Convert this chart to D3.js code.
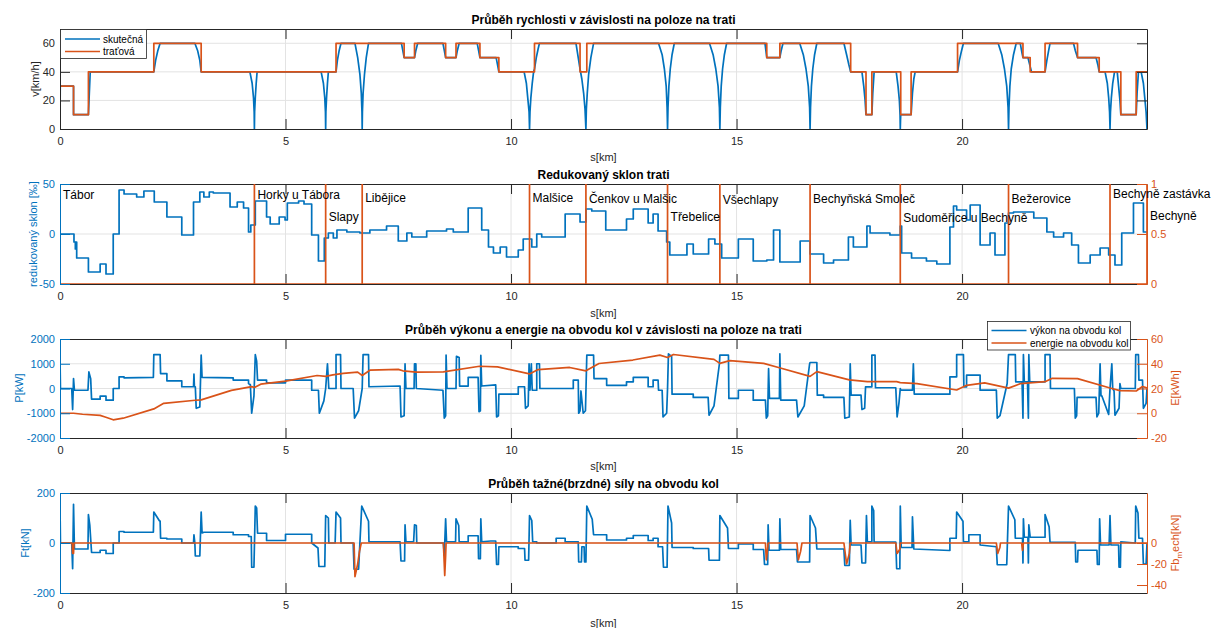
<html>
<head>
<meta charset="utf-8">
<script src="https://cdn.jsdelivr.net/npm/d3@7/dist/d3.min.js"></script>
<style>
  body { margin: 0; background: #fff; }
  text { font-family: "Liberation Sans", Arial, Helvetica, sans-serif; }
</style>
</head>
<body>
<svg id="chart" width="1226" height="628"></svg>
<script>
// ---- data (s in km) ----

// speed limit: section starts [km] and limit [km/h]
var limitStart = [0, 0.30, 0.63, 2.08, 3.13, 6.12, 7.63, 7.86, 8.55, 8.78, 9.31, 9.73, 10.52, 11.53, 11.68,
  15.67, 15.96, 17.53, 17.87, 18.0, 18.64, 18.87, 19.90, 21.35, 21.51, 21.84, 22.56, 23.04, 23.52, 23.86, 24.1];
var limitVal = [30, 10, 40, 60, 40, 60, 50, 60, 50, 60, 50, 40, 60, 40, 60,
  50, 60, 40, 10, 40, 10, 40, 60, 50, 40, 60, 50, 40, 10, 40, 40];

// actual speed [s, v]
var speedAct = [
  [0,0],[0.005,30],[0.30,30],[0.30,10],[0.63,10],[0.65,25],[0.67,40],
  [2.08,40],[2.12,48],[2.17,55],[2.22,60],
  [2.99,60],[3.05,55],[3.10,48],[3.13,40],
  [4.21,40],[4.26,32],[4.29,22],[4.305,12],[4.31,0],[4.315,12],[4.33,22],[4.35,32],[4.37,40],
  [5.79,40],[5.84,32],[5.87,22],[5.885,12],[5.89,0],[5.895,12],[5.91,22],[5.93,32],[5.95,40],
  [6.12,40],[6.15,48],[6.19,55],[6.23,60],
  [6.54,60],[6.60,50],[6.65,38],[6.68,25],[6.695,12],[6.70,0],[6.705,12],[6.72,25],[6.75,38],[6.79,50],[6.84,60],
  [7.57,60],[7.60,55],[7.63,50],[7.86,50],[7.89,55],[7.93,60],
  [8.49,60],[8.52,55],[8.55,50],[8.78,50],[8.81,55],[8.85,60],
  [9.25,60],[9.28,55],[9.31,50],[9.67,50],[9.70,45],[9.73,40],
  [10.29,40],[10.34,32],[10.37,22],[10.40,12],[10.41,0],[10.42,12],[10.44,22],[10.47,32],[10.50,40],[10.52,42],[10.56,50],[10.60,56],[10.63,60],
  [11.44,60],[11.49,50],[11.53,42],[11.57,35],[11.61,25],[11.64,14],[11.66,0],[11.67,14],[11.69,25],[11.72,38],[11.77,50],[11.83,60],
  [13.27,60],[13.35,52],[13.40,42],[13.44,30],[13.46,15],[13.47,0],[13.48,15],[13.50,30],[13.53,42],[13.57,52],[13.62,60],
  [14.40,60],[14.48,52],[14.54,42],[14.59,30],[14.62,15],[14.63,0],[14.64,15],[14.66,30],[14.69,42],[14.73,52],[14.78,60],
  [15.63,60],[15.65,55],[15.67,50],[15.96,50],[15.99,55],[16.03,60],
  [16.40,60],[16.48,52],[16.54,42],[16.59,30],[16.62,15],[16.63,0],[16.64,15],[16.66,30],[16.69,42],[16.73,52],[16.78,60],
  [17.38,60],[17.44,52],[17.49,45],[17.53,40],
  [17.78,40],[17.82,30],[17.85,20],[17.87,10],[18.0,10],[18.02,25],[18.05,40],
  [18.54,40],[18.58,30],[18.61,20],[18.625,10],[18.63,0],[18.635,6],[18.64,10],[18.87,10],[18.90,25],[18.93,35],[18.96,40],
  [19.90,40],[19.94,48],[19.99,55],[20.03,60],
  [20.80,60],[20.88,52],[20.94,42],[20.99,30],[21.02,15],[21.03,0],[21.04,15],[21.06,30],[21.09,42],[21.14,52],[21.20,60],
  [21.29,60],[21.33,53],[21.35,50],[21.46,50],[21.50,45],[21.54,40],
  [21.84,40],[21.88,48],[21.92,55],[21.95,60],
  [22.47,60],[22.51,55],[22.56,50],[22.97,50],[23.01,45],[23.04,40],
  [23.17,40],[23.22,32],[23.25,22],[23.27,12],[23.28,0],[23.29,12],[23.31,22],[23.34,32],[23.38,40],
  [23.44,40],[23.47,30],[23.50,20],[23.52,10],[23.86,10],[23.88,25],[23.91,40],
  [23.97,40],[24.02,32],[24.05,22],[24.08,12],[24.1,0]
];

// reduced gradient: section starts [km] and value [per mille]
var gradStart = [0, 0.31, 0.34, 0.35, 0.37, 0.63, 0.89, 1.02, 1.18, 1.31, 1.42, 1.70, 1.86, 2.09, 2.37, 2.70, 2.96,
  3.10, 3.19, 3.31, 3.40, 3.77, 3.93, 4.07, 4.18, 4.23, 4.33, 4.58, 4.66, 4.86, 4.99, 5.04, 5.29, 5.41, 5.58,
  5.73, 5.86, 5.95, 6.06, 6.14, 6.36, 6.65, 6.87, 7.24, 7.50, 7.69, 7.80, 8.13, 8.57, 8.72, 9.05, 9.35, 9.50,
  9.61, 9.76, 9.90, 10.16, 10.27, 10.46, 10.57, 10.68, 11.20, 11.53, 11.66, 11.79, 12.10, 12.56, 12.71, 13.04,
  13.15, 13.26, 13.45, 13.52, 13.90, 14.04, 14.38, 14.52, 14.67, 15.04, 15.37, 15.67, 15.82, 15.96, 16.41,
  16.63, 16.93, 17.15, 17.48, 17.59, 17.89, 17.96, 18.40, 18.63, 18.66, 18.88, 19.21, 19.44, 19.73, 19.81,
  19.88, 20.10, 20.18, 20.40, 20.62, 20.73, 20.95, 21.03, 21.14, 21.59, 21.88, 22.03, 22.25, 22.43, 22.58,
  22.84, 23.06, 23.25, 23.39, 23.54, 23.80, 24.02, 24.1];
var gradVal = [0, -8, -15, -8, -24, -38, -30, -40, 0, 44, 40, 37, 43, 32, 17, -1, 32,
  42, 37, 42, 41, 27, 32, 26, 2, 9, 33, 17, 10, 17, 14, 31, 33, 30, -1,
  -27, -4, 1, -4, 4, 2, 1, 4, 8, -7, 1, -3, 3, 5, 2, 26, 4, -13,
  -19, -13, -23, -16, -5, -13, 0, -3, 20, 12, 25, 23, 4, 15, 25, 11,
  20, 3, -8, -21, -10, -20, -5, -10, -24, -5, -27, -26, 4, -28, -7,
  -20, -29, -26, -3, -13, 8, 1, -1, 8, -19, -24, -27, -30, 7, 28,
  24, 14, 29, -11, 1, -21, 11, 21, 22, 16, 2, -3, 1, -11, -29,
  -21, -14, -21, -31, 1, 31, 2, 2];

// stations
var stationKm = [0, 4.31, 5.89, 6.70, 10.41, 11.66, 13.47, 14.63, 16.63, 18.63, 21.03, 23.28, 24.1];
var stationName = ["Tábor", "Horky u Tábora", "Slapy", "Libějice", "Malšice", "Čenkov u Malšic", "Třebelice",
  "Všechlapy", "Bechyňská Smoleč", "Sudoměřice u Bechyně", "Bežerovice", "Bechyně zastávka", "Bechyně"];
var stationLabelY = [0.89, 0.89, 0.67, 0.86, 0.86, 0.85, 0.67, 0.84, 0.85, 0.66, 0.85, 0.90, 0.68];

// power at wheel rim [s, kW]
var power = [
  [0,0],[0,1250],[0.01,0],[0.26,0],[0.28,-850],[0.30,400],[0.32,-70],[0.62,-70],[0.64,670],[0.68,400],[0.70,-430],
  [0.89,-430],[0.89,-310],[1.02,-310],[1.02,-470],[1.18,-470],[1.18,0],[1.31,0],[1.31,470],[1.42,470],[1.42,430],
  [2.07,450],[2.08,1370],[2.22,1370],[2.23,600],[2.37,600],[2.37,310],[2.70,310],[2.70,70],[2.96,70],[2.97,580],[2.98,70],
  [3.00,70],[3.02,-800],[3.10,-750],[3.13,1350],[3.15,450],[3.84,430],[3.84,340],[4.18,340],[4.18,200],[4.22,150],
  [4.25,-1000],[4.30,-300],[4.33,1370],[4.36,1100],[4.38,340],[4.58,340],[4.58,230],[5.0,230],[5.0,340],[5.58,340],
  [5.58,-70],[5.73,-70],[5.75,-1000],[5.85,-500],[5.89,0],[5.93,1000],[5.96,0],[6.12,0],[6.12,1370],[6.22,1370],
  [6.23,0],[6.50,0],[6.53,-1200],[6.62,-900],[6.70,0],[6.72,1370],[6.84,1370],[6.85,70],[7.54,100],[7.56,-1150],
  [7.63,-1100],[7.65,1000],[7.67,0],[7.85,0],[7.86,1000],[7.89,1000],[7.90,0],[8.49,-70],[8.52,-1200],[8.55,-1100],
  [8.56,1350],[8.58,0],[8.78,0],[8.79,1300],[8.85,1250],[8.86,100],[9.05,100],[9.05,450],[9.27,450],[9.29,-940],
  [9.32,-900],[9.33,1340],[9.35,100],[9.66,150],[9.68,-1150],[9.72,-1100],[9.73,-230],[10.16,-230],[10.16,70],
  [10.30,70],[10.32,-800],[10.38,-700],[10.40,1000],[10.42,-70],[10.45,1000],[10.47,-70],[10.57,-70],[10.57,1000],
  [10.63,1000],[10.64,0],[11.38,0],[11.38,340],[11.49,340],[11.50,-1000],[11.53,-900],[11.55,-100],[11.60,-1000],
  [11.65,-900],[11.68,1350],[11.83,1350],[11.84,400],[12.12,400],[12.12,130],[12.56,130],[12.56,270],[12.71,270],
  [12.71,450],[13.04,450],[13.04,70],[13.15,70],[13.15,340],[13.26,340],[13.27,-70],[13.35,-70],[13.37,-1150],
  [13.45,-1000],[13.47,0],[13.49,1400],[13.56,1300],[13.57,-230],[14.04,-230],[14.04,-360],[14.37,-360],[14.39,-1080],
  [14.50,-700],[14.62,1000],[14.63,1350],[14.82,1350],[14.83,-400],[15.04,-400],[15.04,-70],[15.37,-70],[15.37,-470],
  [15.64,-470],[15.66,-1200],[15.69,-1100],[15.71,800],[15.73,-400],[15.95,-400],[15.96,1400],[15.98,-470],
  [16.33,-470],[16.36,-1150],[16.50,-700],[16.62,1000],[16.63,1050],[16.78,1050],[16.79,-270],[16.93,-270],
  [16.93,-360],[17.38,-360],[17.40,-1200],[17.50,-1150],[17.52,1000],[17.54,-270],[17.76,-270],[17.78,-850],
  [17.84,-800],[17.86,67],[18.0,67],[18.0,1350],[18.07,1350],[18.08,30],[18.53,30],[18.56,-1150],[18.60,-600],
  [18.63,0],[18.64,-67],[18.90,-67],[18.92,1000],[18.94,-230],[19.73,-230],[19.73,470],[19.88,470],[19.88,1370],
  [20.03,1370],[20.04,67],[20.10,67],[20.10,540],[20.40,540],[20.40,-67],[20.76,-67],[20.78,-1200],[20.84,-1100],
  [21.0,200],[21.03,1370],[21.18,1370],[21.19,270],[21.33,270],[21.35,-1200],[21.36,1370],[21.38,270],[21.45,270],
  [21.47,-1200],[21.48,1370],[21.50,270],[21.84,270],[21.84,1370],[21.95,1370],[21.96,0],[22.49,0],[22.51,-1200],
  [22.54,-1100],[22.55,-360],[22.97,-360],[22.99,-1150],[23.03,-1000],[23.06,1000],[23.08,-300],[23.10,-300],
  [23.25,-1050],[23.28,0],[23.32,1000],[23.34,0],[23.37,-100],[23.39,-1080],[23.48,-800],[23.50,200],[23.52,0],
  [23.84,0],[23.85,1370],[23.91,1370],[23.92,340],[24.0,340],[24.02,-800],[24.08,-600],[24.1,0]
];

// energy at wheel rim [s, kWh]
var energy = [
  [0,0],[0.3,0],[0.5,-0.8],[0.89,-1.7],[1.0,-3],[1.18,-5.3],[1.4,-4],[2.08,3.5],[2.3,8],[3.0,10.5],[3.13,10.8],
  [3.8,18.5],[4.25,21.5],[4.31,20.8],[4.45,23.5],[5.0,26],[5.7,30.5],[5.89,29.8],[6.05,31],[6.28,32.2],[6.6,33.2],
  [6.70,30.5],[6.87,34.8],[7.5,35.5],[7.6,34.3],[7.9,33.2],[8.5,33.5],[9.3,38],[9.7,37.5],[10.41,31.8],[10.6,35.3],
  [11.3,37],[11.66,34.3],[11.95,40.2],[12.7,43],[13.3,47],[13.47,45],[13.6,47.5],[14.5,43.5],[14.63,40.3],
  [14.85,42.5],[15.6,40.3],[15.95,36.8],[16.63,29.8],[16.78,33.6],[17.5,27],[17.9,25.5],[18.55,25.5],[18.63,24.8],
  [19.0,24],[19.88,18.8],[20.1,22.6],[20.5,24.5],[21.03,20.3],[21.3,24],[21.84,25.5],[22.0,28.2],[22.56,28],
  [23.28,20.4],[23.5,18.3],[23.86,18],[24.0,21.6],[24.1,20.5]
];

// tractive (braking) force at wheel rim [s, kN]
var force = [
  [0,0],[0,155],[0.01,0],[0.26,0],[0.28,-103],[0.30,155],[0.32,-24],[0.62,-24],[0.63,114],[0.66,73],[0.70,-38],
  [0.89,-38],[0.89,-29],[1.02,-29],[1.02,-42],[1.18,-42],[1.18,0],[1.31,0],[1.31,46],[1.42,46],[1.42,43],[2.07,43],
  [2.08,124],[2.2,90],[2.22,87],[2.23,19],[2.37,19],[2.37,16],[2.70,16],[2.70,0],[2.96,0],[2.97,33],[2.99,0],
  [3.0,-52],[3.1,-52],[3.13,124],[3.15,40],[3.19,43],[3.84,43],[3.84,33],[4.18,33],[4.18,26],[4.24,26],[4.25,-97],
  [4.30,-97],[4.33,148],[4.36,140],[4.38,39],[4.58,39],[4.58,10],[5.0,10],[5.0,35],[5.58,35],[5.58,0],[5.72,-20],
  [5.74,-94],[5.87,-94],[5.89,110],[5.95,100],[5.96,0],[6.10,0],[6.12,124],[6.22,100],[6.23,0],[6.50,0],[6.52,-105],
  [6.62,-105],[6.69,148],[6.84,87],[6.85,5],[7.54,5],[7.56,-72],[7.64,-72],[7.65,73],[7.67,5],[7.84,5],[7.86,73],
  [7.90,70],[7.91,0],[8.50,0],[8.52,-50],[8.55,97],[8.57,5],[8.77,5],[8.78,97],[8.84,70],[8.85,5],[9.05,5],[9.05,29],
  [9.27,29],[9.28,-63],[9.32,-63],[9.33,97],[9.35,5],[9.55,8],[9.66,8],[9.68,-86],[9.72,-86],[9.73,-15],[10.16,-15],
  [10.16,-22],[10.30,-22],[10.31,-69],[10.39,-69],[10.41,110],[10.46,90],[10.48,5],[10.57,5],[10.57,0],[11.0,0],
  [11.0,19],[11.20,19],[11.20,5],[11.49,5],[11.50,-76],[11.56,-76],[11.57,-15],[11.62,-15],[11.63,-76],[11.66,-76],
  [11.68,148],[11.80,95],[11.83,33],[12.12,33],[12.12,12],[12.56,12],[12.56,19],[12.71,19],[12.71,30],[13.04,30],
  [13.04,10],[13.15,10],[13.15,19],[13.26,19],[13.26,-15],[13.36,-15],[13.38,-97],[13.46,-97],[13.48,148],[13.56,80],
  [13.57,-18],[14.04,-18],[14.04,-22],[14.38,-22],[14.39,-69],[14.62,-69],[14.63,110],[14.8,60],[14.82,-22],
  [15.04,-22],[15.04,-4],[15.37,-4],[15.37,-26],[15.60,-26],[15.62,-86],[15.69,-86],[15.70,73],[15.72,-29],
  [15.95,-29],[15.96,97],[15.98,-26],[16.33,-26],[16.35,-76],[16.62,-76],[16.63,110],[16.75,60],[16.78,-24],
  [17.38,-24],[17.40,-90],[17.50,-90],[17.52,91],[17.54,-8],[17.76,-8],[17.78,-80],[17.86,-80],[17.88,110],
  [17.90,5],[18.0,5],[18.0,148],[18.04,130],[18.05,4],[18.53,4],[18.55,-103],[18.62,-103],[18.63,148],[18.65,-18],
  [18.89,-18],[18.90,105],[18.93,-24],[19.73,-30],[19.73,19],[19.87,19],[19.88,124],[20.02,87],[20.03,5],[20.15,5],
  [20.15,33],[20.40,33],[20.40,-8],[20.76,-15],[20.78,-87],[20.99,-87],[21.03,148],[21.17,93],[21.18,19],[21.34,19],
  [21.35,-80],[21.36,97],[21.38,23],[21.46,23],[21.47,-80],[21.48,73],[21.51,23],[21.84,23],[21.84,114],[21.93,65],
  [21.95,3],[22.51,3],[22.52,-76],[22.56,-76],[22.57,-29],[22.99,-29],[23.0,-86],[23.04,-86],[23.05,97],[23.07,-8],
  [23.26,-8],[23.28,110],[23.30,-8],[23.47,-8],[23.48,-97],[23.51,-97],[23.52,5],[23.84,0],[23.85,148],[23.90,120],
  [23.92,19],[24.0,19],[24.02,-84],[24.08,-84],[24.1,0]
];

// mechanical brake force [s, kN]
var brakeMech = [
  [0,0],[0.27,0],[0.28,-10],[0.30,-10],[0.31,0],[6.52,0],[6.54,-32],[6.60,-20],[6.64,-8],[6.68,0],
  [8.50,0],[8.53,-31],[8.55,-12],[8.56,0],[15.64,0],[15.66,-16],[15.69,-5],[15.70,0],[16.34,0],[16.37,-16],
  [16.42,-8],[16.45,0],[17.38,0],[17.44,-20],[17.50,-10],[17.52,0],[18.53,0],[18.56,-10],[18.62,-6],[18.63,0],
  [20.76,0],[20.79,-10],[20.84,-4],[20.85,0],[21.32,0],[21.34,-7],[21.36,0],[24.1,0]
];

// tick values
var xTicks = [0, 5, 10, 15, 20];
var speedTicks = [0, 20, 40, 60];
var gradTicks = [-50, 0, 50];
var stationAxisTicks = [0, 0.5, 1];
var powerTicks = [-2000, -1000, 0, 1000, 2000];
var energyTicks = [-20, 0, 20, 40, 60];
var forceTicks = [-200, 0, 200];
var brakeTicks = [-40, -20, 0];

// ---- drawing ----
var blue = "#0072BD", orange = "#D95319", axisGray = "#262626", gridGray = "#e3e3e3";
var svg = d3.select("#chart");
var x = d3.scaleLinear().domain([0, 24.1]).range([60, 1147]);
var plain = function(d) { return String(d); };   // keep a plain hyphen minus like MATLAB

function panel(id, top, bottom, title, labelY) {
  var g = svg.append("g");
  svg.append("defs").append("clipPath").attr("id", "clip" + id)
    .append("rect").attr("x", 60).attr("y", top).attr("width", 1087).attr("height", bottom - top);
  // vertical grid
  g.selectAll(".vg").data(xTicks.slice(1)).enter().append("line")
    .attr("x1", function(d) { return x(d); }).attr("x2", function(d) { return x(d); })
    .attr("y1", top).attr("y2", bottom).attr("stroke", gridGray);
  // title and x label
  svg.append("text").attr("x", 603.5).attr("y", top - 5).attr("text-anchor", "middle")
    .attr("font-size", "12px").attr("font-weight", "bold").attr("fill", "#000").text(title);
  svg.append("text").attr("x", 603.5).attr("y", labelY).attr("text-anchor", "middle")
    .attr("font-size", "11px").attr("fill", axisGray).text("s[km]");
  return { g: g, top: top, bottom: bottom, clip: "url(#clip" + id + ")" };
}

function hGrid(p, y, ticks) {
  p.g.selectAll(null).data(ticks).enter().append("line")
    .attr("x1", 60).attr("x2", 1147)
    .attr("y1", function(d) { return y(d); }).attr("y2", function(d) { return y(d); })
    .attr("stroke", gridGray);
}

function styleAxis(a, color) {
  a.select(".domain").attr("stroke", color);
  a.selectAll(".tick line").attr("stroke", color);
  a.selectAll(".tick text").attr("fill", color).attr("font-size", "11px")
    .attr("font-family", '"Liberation Sans", Arial, sans-serif');
}

function xAxes(p) {
  var b = svg.append("g").attr("transform", "translate(0," + p.bottom + ")")
    .call(d3.axisBottom(x).tickValues(xTicks).tickSize(-10).tickSizeOuter(0).tickPadding(8).tickFormat(plain));
  styleAxis(b, axisGray);
  var t = svg.append("g").attr("transform", "translate(0," + p.top + ")")
    .call(d3.axisTop(x).tickValues(xTicks).tickSize(-10).tickSizeOuter(0).tickFormat(""));
  styleAxis(t, axisGray);
  b.selectAll(".tick").filter(function(d) { return d == 0; }).select("line").remove();
  t.selectAll(".tick").filter(function(d) { return d == 0; }).select("line").remove();
}

function yAxisLeft(y, ticks, color) {
  var a = svg.append("g").attr("transform", "translate(60,0)")
    .call(d3.axisLeft(y).tickValues(ticks).tickSize(-10).tickSizeOuter(0).tickPadding(5).tickFormat(plain));
  styleAxis(a, color);
  return a;
}

function yAxisRight(y, ticks, color, labels) {
  var ax = d3.axisRight(y).tickValues(ticks).tickSize(-10).tickSizeOuter(0).tickPadding(4)
    .tickFormat(labels ? plain : "");
  var a = svg.append("g").attr("transform", "translate(1147,0)").call(ax);
  styleAxis(a, color);
  return a;
}

function yLabel(px, py, txt, color) {
  return svg.append("text").attr("transform", "translate(" + px + "," + py + ") rotate(-90)")
    .attr("text-anchor", "middle").attr("dominant-baseline", "central")
    .attr("font-size", "11px").attr("fill", color).text(txt);
}

function drawLine(p, data, y, color, curve) {
  var line = d3.line().x(function(d) { return x(d[0]); }).y(function(d) { return y(d[1]); })
    .curve(curve || d3.curveLinear);
  svg.append("path").datum(data).attr("clip-path", p.clip)
    .attr("fill", "none").attr("stroke", color).attr("stroke-width", 1.7)
    .attr("stroke-linejoin", "round").attr("d", line);
}

function steps(starts, vals) {
  return starts.map(function(s, i) { return [s, vals[i]]; });
}

// panel 1: speed
var p1 = panel(1, 29, 129, "Průběh rychlosti v závislosti na poloze na trati", 161);
var y1 = d3.scaleLinear().domain([0, 70]).range([129, 29]);
hGrid(p1, y1, [20, 40, 60]);
drawLine(p1, speedAct, y1, blue);
drawLine(p1, steps(limitStart, limitVal), y1, orange, d3.curveStepAfter);
xAxes(p1);
yAxisLeft(y1, speedTicks, axisGray);
yAxisRight(y1, speedTicks, axisGray, false);
yLabel(35, 79, "v[km/h]", axisGray);

// legend 1
var lg1 = svg.append("g");
lg1.append("rect").attr("x", 60.5).attr("y", 29.5).attr("width", 86).attr("height", 29)
  .attr("fill", "#fff").attr("stroke", axisGray).attr("stroke-width", 0.8);
[["skutečná", blue, 39], ["traťová", orange, 51.5]].forEach(function(e) {
  lg1.append("line").attr("x1", 65).attr("x2", 100).attr("y1", e[2]).attr("y2", e[2])
    .attr("stroke", e[1]).attr("stroke-width", 1.7);
  lg1.append("text").attr("x", 103).attr("y", e[2] + 3.5).attr("font-size", "10px")
    .attr("fill", "#000").text(e[0]);
});

// panel 2: gradient and stations
var p2 = panel(2, 184, 284, "Redukovaný sklon trati", 317);
var y2 = d3.scaleLinear().domain([-50, 50]).range([284, 184]);
var y2r = d3.scaleLinear().domain([0, 1]).range([284, 184]);
hGrid(p2, y2, [0]);
drawLine(p2, steps(gradStart, gradVal), y2, blue, d3.curveStepAfter);
var stationPulse = [];
stationKm.forEach(function(s) { stationPulse.push([s, 0], [s, 1], [s, 0]); });
xAxes(p2);
drawLine(p2, stationPulse, y2r, orange);
yAxisLeft(y2, gradTicks, blue);
yAxisRight(y2r, stationAxisTicks, orange, true);
yLabel(33, 234, "redukovaný sklon [‰]", blue);
svg.append("g").selectAll("text").data(stationName).enter().append("text")
  .attr("x", function(d, i) { return x(stationKm[i]) + 3; })
  .attr("y", function(d, i) { return y2r(stationLabelY[i]); })
  .attr("dominant-baseline", "central").attr("font-size", "12px").attr("fill", "#000")
  .text(function(d) { return d; });

// panel 3: power and energy
var p3 = panel(3, 339, 438, "Průběh výkonu a energie na obvodu kol v závislosti na poloze na trati", 470);
var y3 = d3.scaleLinear().domain([-2000, 2000]).range([438, 339]);
var y3r = d3.scaleLinear().domain([-20, 60]).range([438, 339]);
hGrid(p3, y3, [-1000, 0, 1000]);
drawLine(p3, power, y3, blue);
drawLine(p3, energy, y3r, orange);
xAxes(p3);
yAxisLeft(y3, powerTicks, blue);
yAxisRight(y3r, energyTicks, orange, true);
yLabel(19, 388, "P[kW]", blue);
yLabel(1175, 388, "E[kWh]", orange);

// legend 3
var lg3 = svg.append("g");
lg3.append("rect").attr("x", 987.5).attr("y", 321.5).attr("width", 143).attr("height", 28.5)
  .attr("fill", "#fff").attr("stroke", axisGray).attr("stroke-width", 0.8);
[["výkon na obvodu kol", blue, 330.5], ["energie na obvodu kol", orange, 343]].forEach(function(e) {
  lg3.append("line").attr("x1", 991.5).attr("x2", 1026.5).attr("y1", e[2]).attr("y2", e[2])
    .attr("stroke", e[1]).attr("stroke-width", 1.7);
  lg3.append("text").attr("x", 1030).attr("y", e[2] + 3.5).attr("font-size", "10px")
    .attr("fill", "#000").text(e[0]);
});

// panel 4: forces
var p4 = panel(4, 493, 593, "Průběh tažné(brzdné) síly na obvodu kol", 627);
var y4 = d3.scaleLinear().domain([-200, 200]).range([593, 493]);
var y4r = d3.scaleLinear().domain([-47.6, 47.6]).range([593, 493]);
hGrid(p4, y4, [0]);
drawLine(p4, force, y4, blue);
drawLine(p4, brakeMech, y4r, orange);
xAxes(p4);
yAxisLeft(y4, forceTicks, blue);
yAxisRight(y4r, brakeTicks, orange, true);
yLabel(25, 543, "Ft[kN]", blue);
var fb = svg.append("text").attr("transform", "translate(1179,543) rotate(-90)")
  .attr("text-anchor", "middle").attr("font-size", "11px").attr("fill", orange);
fb.append("tspan").text("Fb");
fb.append("tspan").attr("font-size", "8px").attr("dy", 3).text("m");
fb.append("tspan").attr("dy", -3).text("ech[kN]");
</script>
</body>
</html>
